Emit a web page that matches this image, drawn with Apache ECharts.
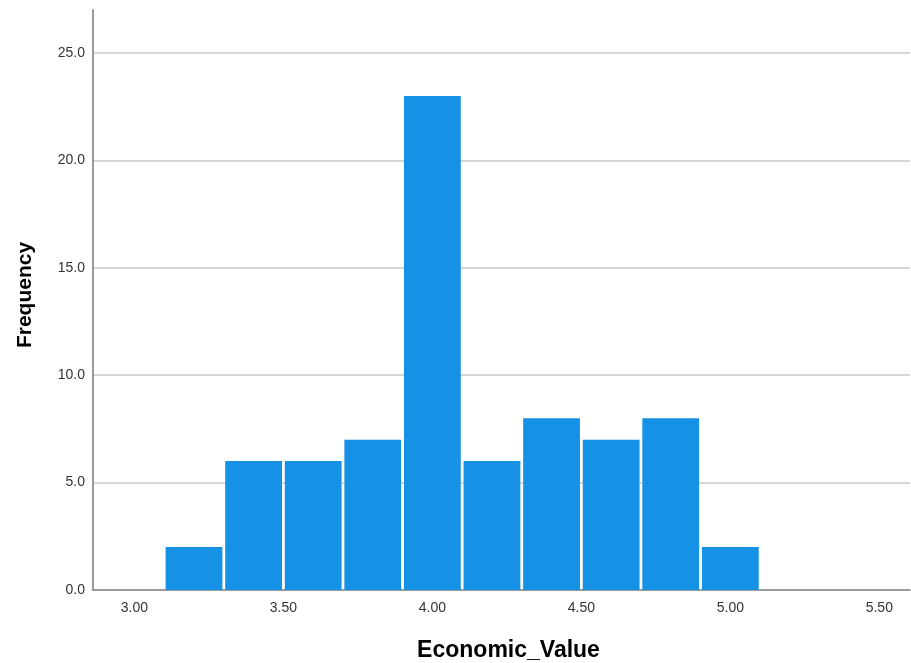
<!DOCTYPE html>
<html>
<head>
<meta charset="utf-8">
<script src="https://cdn.jsdelivr.net/npm/echarts@6/dist/echarts.min.js"></script>
<style>html,body{margin:0;padding:0;background:#fff}#c{width:911px;height:663px}</style>
</head>
<body>
<div id="c"></div>
<script>
// Bin centres (bin width 0.2) and their frequencies
const binCenters = [3.2, 3.4, 3.6, 3.8, 4.0, 4.2, 4.4, 4.6, 4.8, 5.0];
const frequencies = [2, 6, 6, 7, 23, 6, 8, 7, 8, 2];
const xTickValues = [3.0, 3.5, 4.0, 4.5, 5.0, 5.5];
const yTickValues = [0, 5, 10, 15, 20, 25];

const chart = echarts.init(document.getElementById('c'), null, {renderer: 'canvas'});
const font = 'Arial, "Liberation Sans", sans-serif';
chart.setOption({
  animation: false,
  grid: {left: 93, right: 1, top: 10, bottom: 73, containLabel: false, outerBoundsMode: 'none'},
  xAxis: {
    type: 'value', min: 2.861, max: 5.603,
    name: 'Economic_Value', nameLocation: 'middle', nameGap: 49,
    nameTextStyle: {fontFamily: font, fontSize: 23, fontWeight: 'bold', color: '#000', padding: [0, 0, 0, 14]},
    axisLine: {show: true, lineStyle: {color: '#888', width: 1.5}},
    axisTick: {show: false, customValues: xTickValues},
    splitLine: {show: false},
    axisLabel: {customValues: xTickValues, formatter: v => v.toFixed(2), fontFamily: font, fontSize: 14, color: '#333', margin: 11}
  },
  yAxis: {
    type: 'value', min: 0, max: 27,
    name: 'Frequency', nameLocation: 'middle', nameGap: 57, nameRotate: 90,
    nameTextStyle: {fontFamily: font, fontSize: 21, fontWeight: 'bold', color: '#000', padding: [0, 0, 0, 10]},
    axisLine: {show: true, lineStyle: {color: '#999', width: 2}},
    axisTick: {show: false, customValues: yTickValues},
    splitLine: {show: true, lineStyle: {color: '#c8c8c8', width: 1.5}},
    axisLabel: {customValues: yTickValues, formatter: v => v.toFixed(1), fontFamily: font, fontSize: 14, color: '#333', margin: 8}
  },
  series: [{
    type: 'bar',
    data: binCenters.map((c, i) => [c, frequencies[i]]),
    barWidth: 56.8,
    itemStyle: {color: '#1591e6'},
    emphasis: {disabled: true}
  }]
});
</script>
</body>
</html>
